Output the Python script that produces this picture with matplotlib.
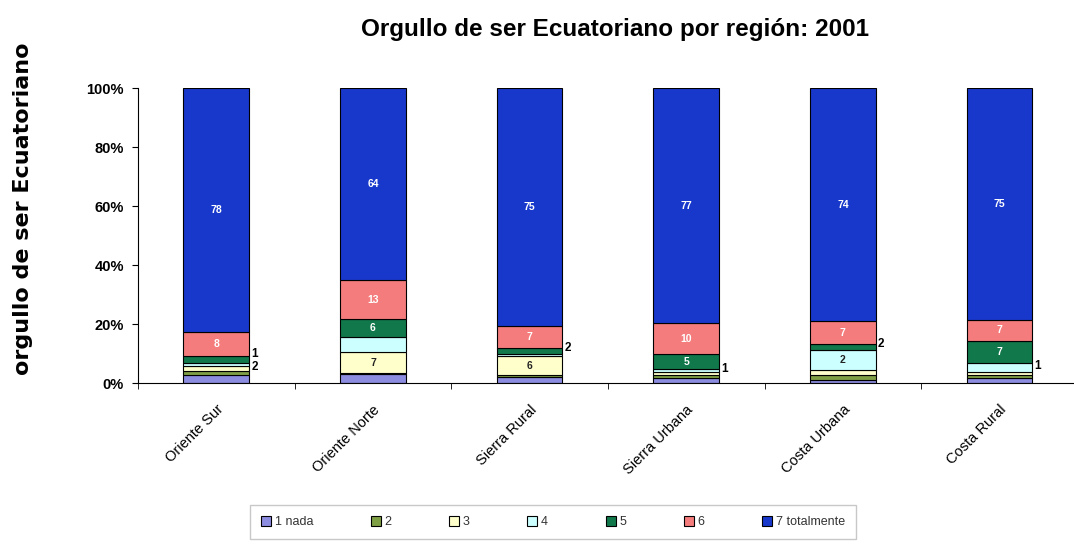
import matplotlib.pyplot as plt
import matplotlib.transforms as mtransforms
import numpy as np
from matplotlib.ticker import PercentFormatter, FixedLocator

plt.rcParams['font.family'] = ['Liberation Sans', 'DejaVu Sans']

regions = ['Oriente Sur', 'Oriente Norte', 'Sierra Rural', 'Sierra Urbana', 'Costa Urbana', 'Costa Rural']
levels = ['1 nada', '2', '3', '4', '5', '6', '7 totalmente']

# raw values per level for each region, stacked to 100%
nada = [2.5, 3.0, 2.0, 1.5, 1.0, 1.5]
dos = [1.5, 0.3, 0.5, 1.0, 1.5, 1.0]
tres = [1.5, 7.0, 6.0, 1.0, 1.5, 1.0]
cuatro = [1.0, 5.0, 0.5, 1.0, 6.5, 3.0]
cinco = [2.0, 6.0, 2.0, 5.0, 2.0, 7.0]
seis = [8.0, 13.0, 7.0, 10.0, 7.0, 7.0]
siete = [78.0, 64.0, 75.0, 77.0, 74.0, 75.0]

# labels printed inside the bars
labels_in = {
    (0, 5): '8', (0, 6): '78',
    (1, 2): '7', (1, 4): '6', (1, 5): '13', (1, 6): '64',
    (2, 2): '6', (2, 5): '7', (2, 6): '75',
    (3, 4): '5', (3, 5): '10', (3, 6): '77',
    (4, 3): '2', (4, 5): '7', (4, 6): '74',
    (5, 4): '7', (5, 5): '7', (5, 6): '75',
}
# small labels to the right of the bar: (text, vertical nudge in %)
labels_out = {
    (0, 4): ('1', 2.0), (0, 3): ('2', -1.0),
    (2, 4): ('2', 1.0),
    (3, 3): ('1', 0.5),
    (4, 4): ('2', 1.0),
    (5, 3): ('1', 0.5),
}

colors = ['#8c8ce0', '#7f9f45', '#ffffcc', '#ccffff', '#11784c', '#f47c7c', '#1838cc']
text_colors = ['white', 'white', '#222222', '#222222', 'white', 'white', 'white']

data = np.array([nada, dos, tres, cuatro, cinco, seis, siete])
pct = data / data.sum(axis=0) * 100

fig = plt.figure(figsize=(10.74, 5.47), dpi=100)
ax = fig.add_axes([0.1285, 0.2998, 0.875, 0.5393])

x = np.arange(len(regions))
bottom = np.zeros(len(regions))
handles = []
for i, lev in enumerate(levels):
    b = ax.bar(x, pct[i], 0.42, bottom=bottom, color=colors[i],
               edgecolor='black', linewidth=0.8, label=lev)
    handles.append(b)
    for j in range(len(regions)):
        mid = bottom[j] + pct[i][j] / 2
        if (j, i) in labels_in:
            ax.text(x[j], mid, labels_in[(j, i)], ha='center', va='center',
                    fontsize=7.5, fontweight='bold', color=text_colors[i])
        if (j, i) in labels_out:
            txt, dy = labels_out[(j, i)]
            ax.text(x[j] + 0.225, mid + dy, txt, ha='left', va='center',
                    fontsize=8.5, fontweight='bold', color='black')
    bottom += pct[i]

ax.set_xlim(-0.5, 5.5)
ax.set_ylim(0, 100)
ax.set_yticks([0, 20, 40, 60, 80, 100])
ax.yaxis.set_major_formatter(PercentFormatter(decimals=0))
for t in ax.get_yticklabels():
    t.set_fontweight('bold')
    t.set_fontsize(10.5)
ax.set_xticks(x)
ax.set_xticklabels(regions, rotation=45, ha='right', rotation_mode='anchor', fontsize=10.5)
shift = mtransforms.ScaledTranslation(-6 / 100, 0, fig.dpi_scale_trans)
for t in ax.get_xticklabels():
    t.set_transform(t.get_transform() + shift)
ax.xaxis.set_minor_locator(FixedLocator(np.arange(-0.5, 6, 1.0)))
ax.tick_params(axis='x', which='major', length=0, pad=14)
ax.tick_params(axis='x', which='minor', length=4, direction='out')
ax.tick_params(axis='y', length=4, pad=6)
ax.spines['top'].set_visible(False)
ax.spines['right'].set_visible(False)

ax.set_ylabel('orgullo de ser Ecuatoriano', fontsize=16, fontweight='bold',
              family=['DejaVu Sans'])
ax.yaxis.set_label_coords(-0.112, 0.59)
fig.suptitle('Orgullo de ser Ecuatoriano por región: 2001', x=0.573, y=0.968,
             fontsize=17.5, fontweight='bold')

leg = fig.legend(handles=handles, loc='center', bbox_to_anchor=(0.515, 0.0455), ncol=7,
                 fontsize=9, frameon=True, fancybox=False, edgecolor='#bbbbbb',
                 handlelength=0.8, handleheight=0.8, columnspacing=4.6, handletextpad=0.3,
                 borderpad=0.9, borderaxespad=0)
leg._legend_box.align = 'left'
for t in leg.get_texts():
    t.set_color('#333333')

plt.savefig('out.png', dpi=100)
